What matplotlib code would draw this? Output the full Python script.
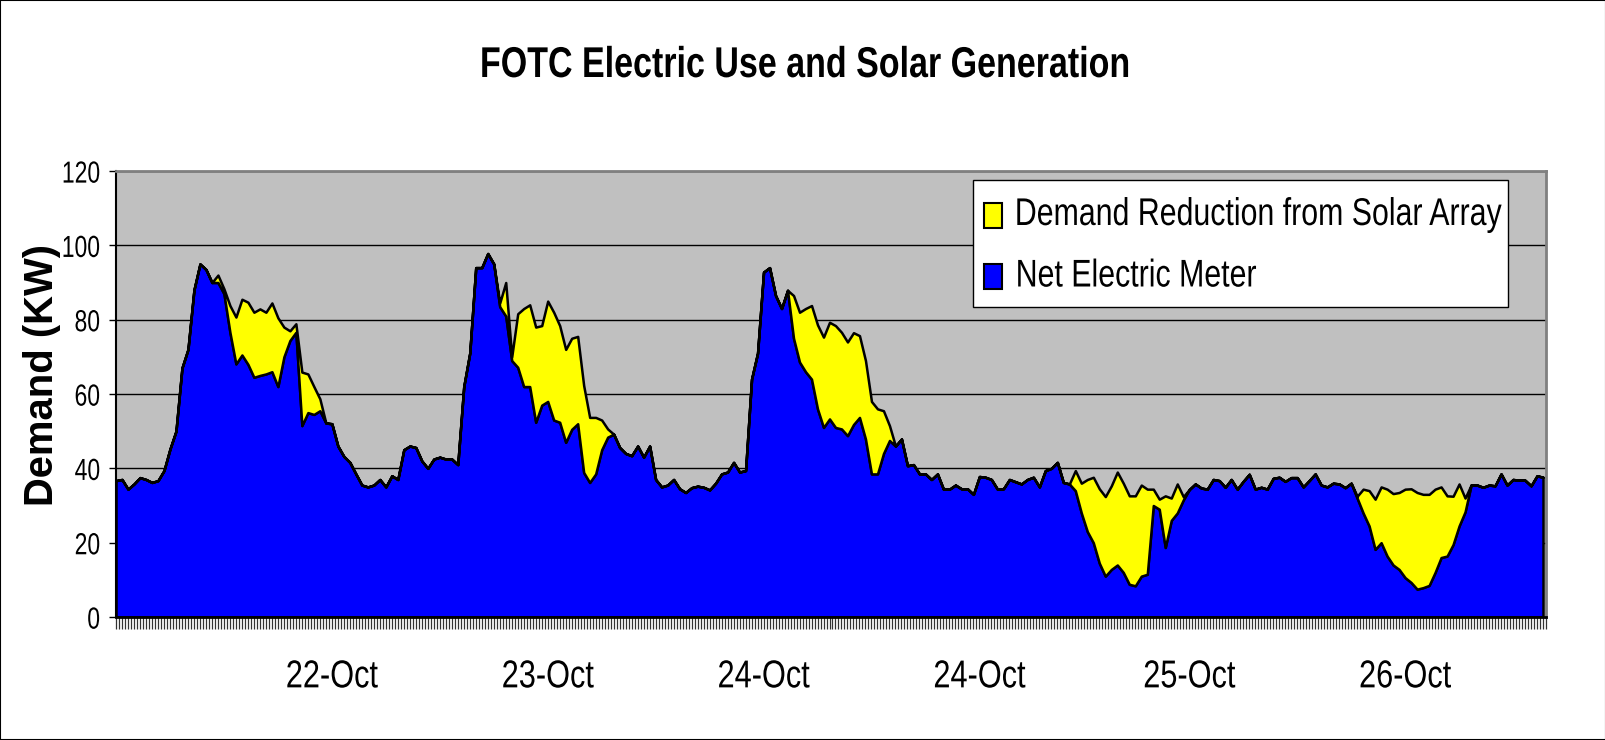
import numpy as np
import matplotlib
matplotlib.use('Agg')
from matplotlib import pyplot as plt
from matplotlib.patches import Rectangle
from matplotlib.patheffects import AbstractPathEffect
from matplotlib.transforms import Affine2D

# demand, kW, one value per reading
net_kw = [
    36.7, 37, 34.4, 35.8, 37.5, 37, 36.2, 36.7, 39.4, 45.2, 50, 67, 72, 88, 95, 93.5, 90, 90, 87, 76.6,
    68.1, 70.5, 68, 64.5, 65, 65.4, 66, 62, 70, 74.4, 76.6, 51.5, 55, 54.5, 55.5, 52.2, 52, 46, 43.2, 41.6,
    38.5, 35.5, 35, 35.5, 37, 35, 38, 37, 45, 46, 45.6, 42, 40, 42.5, 43, 42.5, 42.5, 41, 62, 71,
    94, 94, 97.8, 95, 83.5, 81, 69, 67.2, 62, 62, 52.4, 57, 58, 53, 52.4, 47, 50.5, 52, 38.9, 36.2,
    38.5, 45, 48.4, 49.2, 45.6, 44, 43.4, 46, 43, 46, 37, 35, 35.5, 37, 34.5, 33.5, 34.8, 35.2, 34.9, 34.2,
    36, 38.5, 39, 41.6, 39, 39.4, 64, 71, 92.8, 94, 86.5, 83, 87.9, 75, 68.6, 66, 64, 56, 51, 53.3,
    51, 50.6, 48.8, 51.8, 53.7, 47.9, 38.5, 38.5, 44, 47.5, 46, 47.9, 40.7, 41, 38.5, 38.5, 37, 38.5, 34.4, 34.4,
    35.5, 34.5, 34.5, 33, 37.8, 37.6, 37, 34.4, 34.5, 37, 36.4, 35.8, 37, 37.6, 35, 39.4, 40, 41.6, 36.2, 35.8,
    34, 28, 23, 20, 14.5, 11, 12.8, 14, 12, 8.8, 8.4, 11, 11.5, 30, 29, 18.7, 26, 28, 31.5, 34.3,
    35.8, 34.7, 34.4, 37, 36.7, 34.9, 37, 34.4, 36.5, 38.4, 34.4, 34.9, 34.4, 37.3, 37.6, 36.5, 37.5, 37.5, 35, 36.7,
    38.5, 35.5, 35, 36, 35.8, 34.8, 36, 32, 28, 24.5, 18.2, 20, 16.4, 14, 12.8, 10.6, 9.3, 7.5, 7.9, 8.5,
    12, 16, 16.4, 19.5, 24.5, 28.3, 35.5, 35.5, 34.9, 35.5, 35.3, 38.5, 35.5, 37, 36.8, 36.8, 35.3, 38, 37.6,
]
# net meter + solar array output
total_kw = [
    36.7, 37, 34.4, 35.8, 37.5, 37, 36.2, 36.7, 39.4, 45.2, 50, 67, 72, 88, 95, 93.5, 90, 92, 88.3, 83.8,
    80.7, 85.5, 84.7, 82, 82.9, 82, 84.5, 80.5, 78, 77, 78.9, 65.9, 65.4, 62, 58.7, 52.2, 52, 46, 43.2, 41.6,
    38.5, 35.5, 35, 35.5, 37, 35, 38, 37, 45, 46, 45.6, 42, 40, 42.5, 43, 42.5, 42.5, 41, 62, 71,
    94, 94, 97.8, 95, 84.5, 90, 70, 81.6, 83, 84, 78, 78.4, 85, 82, 78.4, 72, 75, 75.5, 62.3, 53.7,
    53.7, 53, 50.6, 49.2, 45.6, 44, 43.4, 46, 43, 46, 37, 35, 35.5, 37, 34.5, 33.5, 34.8, 35.2, 34.9, 34.2,
    36, 38.5, 39, 41.6, 39, 39.4, 64, 71, 92.8, 94, 86.5, 83, 87.9, 86.5, 82, 83, 83.8, 78.6, 75.3, 79.3,
    78.4, 76.6, 74, 76.5, 75.7, 69, 58, 56, 55.5, 51.5, 46, 47.9, 40.7, 41, 38.5, 38.5, 37, 38.5, 34.4, 34.4,
    35.5, 34.5, 34.5, 33, 37.8, 37.6, 37, 34.4, 34.5, 37, 36.4, 35.8, 37, 37.6, 35, 39.4, 40, 41.6, 36.2, 35.8,
    39.4, 36, 37, 37.6, 34.5, 32.4, 35.3, 39, 36, 32.6, 32.6, 35.5, 34.4, 34.4, 31.7, 32.6, 32, 35.8, 32.4, 34.3,
    35.8, 34.7, 34.4, 37, 36.7, 34.9, 37, 34.4, 36.5, 38.4, 34.4, 34.9, 34.4, 37.3, 37.6, 36.5, 37.5, 37.5, 35, 36.7,
    38.5, 35.5, 35, 36, 35.8, 34.8, 36, 32.5, 34.4, 34, 31.7, 35, 34.4, 33.2, 33.5, 34.4, 34.5, 33.5, 33, 33,
    34.4, 35, 32.6, 32.5, 35.8, 32, 35.5, 35.5, 34.9, 35.5, 35.3, 38.5, 35.5, 37, 36.8, 36.8, 35.3, 38, 37.6,
]

date_pos = [36, 72, 108, 144, 179, 215]
date_labels = ['22-Oct', '23-Oct', '24-Oct', '24-Oct', '25-Oct', '26-Oct']
y_ticks = [0, 20, 40, 60, 80, 100, 120]

series_names = ['Demand Reduction from Solar Array', 'Net Electric Meter']
series_colors = ['#ffff00', '#0000ff']

W, H = 1606, 740


class Stretch(AbstractPathEffect):
    """Scale drawn text (no Arial Narrow here, so fake the narrow look)."""
    def __init__(self, sx=1.0, sy=1.0, anchor='center'):
        super().__init__()
        self.sx = sx
        self.sy = sy
        self.anchor = anchor

    def draw_path(self, renderer, gc, tpath, affine, rgbFace=None):
        ext = tpath.get_extents(affine)
        cx = {'left': ext.x0, 'right': ext.x1}.get(self.anchor, (ext.x0 + ext.x1) / 2)
        cy = (ext.y0 + ext.y1) / 2
        t = affine + Affine2D().translate(-cx, -cy).scale(self.sx, self.sy).translate(cx, cy)
        renderer.draw_path(gc, tpath, t, rgbFace)


plt.rcParams['font.family'] = ['Liberation Sans', 'DejaVu Sans']

net = np.array(net_kw)
total = np.array(total_kw)
x = np.arange(len(net))

fig = plt.figure(figsize=(W / 100, H / 100), dpi=100)
fig.add_artist(Rectangle((0, 0), 1, 1, transform=fig.transFigure,
                         fill=False, edgecolor='black', lw=1.5))
ax = fig.add_axes([116 / W, 1 - 617 / H, 1430 / W, 446 / H])
ax.set_facecolor('#c0c0c0')

ax.fill_between(x, 0, net, facecolor=series_colors[1], edgecolor='black', lw=1.8, zorder=2)
ax.fill_between(x, net, total, facecolor=series_colors[0], edgecolor='black', lw=1.8, zorder=2)

ax.set_xlim(0, len(x) - 1 + 0.3)
ax.set_ylim(0, 120)
ax.set_yticks(y_ticks)
ax.set_yticklabels([str(v) for v in y_ticks], fontsize=16.5)
ax.set_xticks(date_pos)
ax.set_xticklabels(date_labels, fontsize=28)
ax.set_xticks(np.arange(0, len(x), 0.5), minor=True)
ax.tick_params(axis='x', which='both', length=8.5, width=0.9, color='#333333', direction='out')
ax.tick_params(axis='x', which='major', pad=22)
ax.tick_params(axis='y', length=5, width=1, pad=6.5)
for t in ax.get_xticklabels():
    t.set_path_effects([Stretch(sx=0.79)])
for t in ax.get_yticklabels():
    t.set_path_effects([Stretch(sy=1.33, anchor='right')])

ax.grid(axis='y', color='black', lw=1)
ax.set_axisbelow(True)

ax.spines['left'].set_color('black')
ax.spines['left'].set_linewidth(1.5)
ax.spines['bottom'].set_color('black')
ax.spines['bottom'].set_linewidth(2)
for side in ['top', 'right']:
    ax.spines[side].set_color('#808080')
    ax.spines[side].set_linewidth(2)

# legend box drawn by hand so the narrowed text fits like the original
fig.add_artist(Rectangle((973 / W, 1 - 307 / H), 535 / W, 127 / H, transform=fig.transFigure,
                         facecolor='white', edgecolor='black', lw=1))
for i, (name, color) in enumerate(zip(series_names, series_colors)):
    yc = 215 + 61.5 * i
    fig.add_artist(Rectangle((984 / W, 1 - (yc + 12.5) / H), 18 / W, 25 / H,
                             transform=fig.transFigure, facecolor=color,
                             edgecolor='black', lw=1.5))
    if i == 0:
        # long label: pin its right end so it stays inside the box
        fig.text(1502 / W, 1 - yc / H, name, ha='right', va='center', fontsize=27.8,
                 path_effects=[Stretch(sx=0.785, anchor='right')])
    else:
        fig.text(1015 / W, 1 - yc / H, name, ha='left', va='center', fontsize=27.8,
                 path_effects=[Stretch(sx=0.785, anchor='left')])

fig.text(0.5006, 1 - 77 / H, 'FOTC Electric Use and Solar Generation', ha='center',
         va='baseline', fontsize=31, fontweight='bold', path_effects=[Stretch(sx=0.79)])
fig.text(42 / W, 1 - 375 / H, 'Demand (KW)', rotation=90, ha='center', va='center',
         fontsize=28.8, fontweight='bold')

fig.savefig('out.png', dpi=100)
